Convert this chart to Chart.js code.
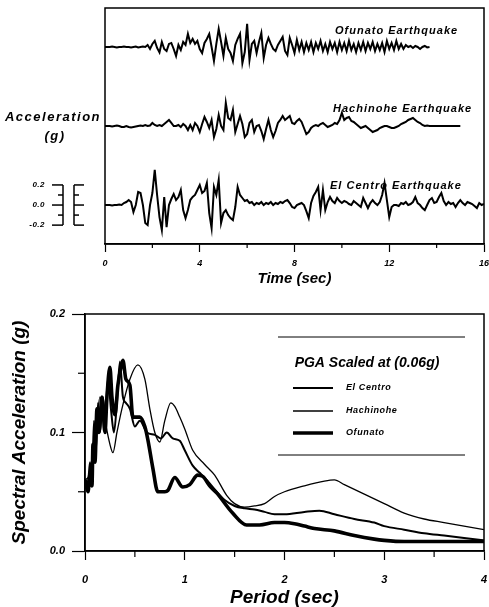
<!DOCTYPE html>
<html>
<head>
<meta charset="utf-8">
<script src="https://cdn.jsdelivr.net/npm/chart.js@4.4.0/dist/chart.umd.min.js"></script>
<style>
  html, body { margin: 0; padding: 0; background: #fff; }
  #wrap { position: relative; width: 489px; height: 607px; }
  #timeBox { position: absolute; left: 0; top: 0; width: 489px; height: 290px; }
  #specBox { position: absolute; left: 0; top: 290px; width: 489px; height: 317px; }
</style>
</head>
<body>
<div id="wrap">
  <div id="timeBox"><canvas id="chartTime"></canvas></div>
  <div id="specBox"><canvas id="chartSpec"></canvas></div>
</div>
<script>
// ---- time histories (g), one sample every 0.1 s ----
const timeStep = 0.1;
const ofunatoAcc = [
  0, 0, 0, 0.005, 0, -0.005, 0, 0, 0.005, 0, 0, -0.005, 0, 0.005, -0.005, 0, 0.005, 0,
  0.02, -0.02, 0.03, 0.06, -0.01, -0.055, 0.05, -0.02, -0.04, 0.03, 0.04, -0.02,
  -0.09, 0.02, -0.03, 0.05, 0.02, 0.13, 0.04, 0.08, 0.03, 0.06,
  -0.02, -0.06, 0.04, 0.08, 0.13, 0.0, -0.14, 0.03, 0.18, 0.05,
  -0.09, 0.09, -0.02, -0.06, -0.14, 0.02, 0.08, 0.13, -0.16, -0.05,
  0.23, -0.13, 0.03, 0.06, -0.06, 0.05, 0.14, -0.11, 0.02, 0.09,
  0.03, -0.02, -0.04, 0.02, 0.06, 0.1, -0.04, -0.08, 0.09, 0.02,
  -0.06, 0.07, -0.03, 0.05, -0.05, 0.04, -0.03, 0.05, -0.05, 0.04,
  -0.02, 0.06, -0.04, 0.03, -0.05, 0.05, -0.02, 0.04, -0.05, 0.05,
  -0.03, 0.04, -0.04, 0.06, -0.03, 0.03, -0.05, 0.04, -0.03, 0.05,
  -0.04, 0.04, -0.02, 0.05, -0.04, 0.03, -0.03, 0.04, -0.05, 0.06,
  -0.02, 0.04, -0.03, 0.06, -0.02, 0.03, -0.02, 0.02, 0.0, 0.01,
  -0.01, 0.01, 0, -0.02, 0, 0.01, -0.005, 0
];
const hachinoheAcc = [
  0, 0, 0, -0.005, 0, 0.005, 0, -0.01, -0.01, 0,
  -0.01, -0.015, -0.01, -0.005, 0, 0.005, 0, 0.01, 0, 0.005,
  0.03, 0.01, 0.0, 0.01, 0.0, 0.02, 0.04, 0.06, 0.03, 0.0,
  0.0, 0.01, -0.01, 0.02, 0.0, -0.04, 0.01, -0.04, 0.03, 0.0,
  -0.06, 0.02, 0.09, 0.04, -0.02, 0.06, -0.11, -0.03, 0.11, 0.0,
  -0.04, 0.23, 0.08, 0.06, 0.16, -0.06, 0.02, 0.1, 0.02, -0.11,
  -0.08, 0.03, 0.06, -0.06, 0.0, 0.01, -0.05, -0.13, -0.03, 0.06,
  -0.04, -0.11, -0.05, 0.03, 0.06, 0.1, 0.06, 0.08, 0.1, 0.03,
  0.02, 0.05, 0.07, 0.04, -0.02, -0.08, -0.06, -0.02, 0.0, 0.01,
  0.0, 0.02, 0.03, 0.01, -0.01, 0.0, 0.01, 0.03, 0.02, 0.06,
  0.13, 0.06, 0.08, 0.09, 0.05, 0.04, 0.02, 0.0, -0.02, -0.01,
  0.0, -0.02, -0.04, -0.06, -0.05, -0.04, -0.02, -0.01, 0.0, 0.0,
  -0.01, -0.02, -0.02, -0.01, 0.0, 0.02, 0.03, 0.04, 0.06, 0.07,
  0.08, 0.06, 0.04, 0.03, 0.01, 0.0, 0.005, 0, 0, 0,
  0, 0, 0, 0, 0, 0, 0, 0, 0, 0, 0
];
const elCentroAcc = [
  0, 0, 0, -0.005, 0, 0, 0.005, 0, 0.02, 0.03,
  0.05, 0.03, -0.07, 0.0, 0.13, 0.12, 0.0, -0.18, -0.2, 0.0,
  0.12, 0.35, 0.1, -0.12, -0.25, 0.08, -0.22, 0.0, 0.06, 0.11,
  0.05, 0.08, 0.15, -0.05, -0.13, -0.05, 0.05, 0.08, 0.1, 0.15,
  0.2, 0.12, 0.14, 0.22, -0.08, -0.23, 0.18, 0.1, 0.25, -0.18,
  -0.08, -0.05, -0.1, -0.13, -0.15, -0.02, 0.18, 0.1, 0.07, 0.04,
  0.05, 0.02, 0.03, 0.0, 0.02, 0.01, 0.03, 0.0, 0.02, 0.01,
  0.03, 0.0, 0.02, 0.01, 0.03, 0.02, 0.04, 0.05, 0.02, -0.02,
  -0.03, 0.0, 0.01, 0.02, 0.0, -0.06, -0.13, 0.02, 0.09, 0.13,
  0.18, -0.05, 0.15, -0.05, 0.03, 0.08, 0.04, 0.02, 0.07, 0.04,
  0.02, 0.04, 0.03, 0.01, 0.0, 0.04, 0.02, 0.0, -0.02, 0.07,
  0.02, -0.03, 0.02, 0.05, 0.02, 0.0, 0.03, 0.1, 0.22, 0.05,
  -0.12, -0.02, 0.0, 0.0, -0.01, 0.02, 0.01, 0.03, 0.0, 0.01,
  0.03, 0.08, 0.02, 0.0, -0.03, -0.05, 0.0, 0.05, 0.07, 0.02,
  0.03, 0.08, 0.12, 0.04, 0.0, 0.03, 0.01, 0.02, -0.02, 0.02,
  0.05, 0.02, 0.0, 0.03, 0.02, 0.01, -0.01, -0.03, 0.02, 0.0, 0.01
];
const traceNames = ["Ofunato Earthquake", "Hachinohe Earthquake", "El Centro Earthquake"];
const timeTicks = [0, 4, 8, 12, 16];

// ---- response spectra (period s, spectral acceleration g) ----
const elCentroT = [0, 0.03, 0.05, 0.07, 0.09, 0.11, 0.13, 0.15, 0.18, 0.2, 0.23, 0.26, 0.29, 0.32, 0.35, 0.38, 0.41, 0.45,
  0.5, 0.55, 0.62, 0.7, 0.76, 0.82, 0.88, 0.95, 1.0, 1.08, 1.15, 1.22, 1.3, 1.4, 1.5, 1.6, 1.7, 1.8, 1.9, 2.0,
  2.2, 2.35, 2.5, 2.7, 2.9, 3.0, 3.2, 3.4, 3.6, 3.8, 4.0];
const elCentroSa = [0.06, 0.058, 0.075, 0.06, 0.11, 0.085, 0.125, 0.1, 0.13, 0.11, 0.145, 0.12, 0.1, 0.125, 0.16, 0.13, 0.125, 0.12,
  0.105, 0.11, 0.1, 0.098, 0.095, 0.1, 0.095, 0.093, 0.085, 0.072, 0.066, 0.06, 0.052, 0.043, 0.038, 0.036, 0.035, 0.033, 0.031, 0.031,
  0.033, 0.034, 0.031, 0.027, 0.024, 0.021, 0.018, 0.015, 0.013, 0.011, 0.009];
const hachinoheT = [0, 0.05, 0.1, 0.15, 0.2, 0.25, 0.28, 0.32, 0.37, 0.45, 0.53, 0.6, 0.65, 0.7, 0.75, 0.8, 0.86, 0.9,
  0.95, 1.0, 1.08, 1.2, 1.3, 1.42, 1.5, 1.6, 1.7, 1.8, 1.9, 2.0, 2.2, 2.4, 2.5, 2.6, 2.8, 3.0, 3.2, 3.4, 3.6, 3.8, 4.0];
const hachinoheSa = [0.06, 0.065, 0.09, 0.13, 0.11, 0.09, 0.083, 0.1, 0.12, 0.145, 0.157, 0.145, 0.12, 0.1, 0.092, 0.11, 0.125, 0.122,
  0.113, 0.103, 0.085, 0.073, 0.064, 0.047, 0.04, 0.037, 0.038, 0.04, 0.046, 0.05, 0.055, 0.059, 0.06, 0.056, 0.048, 0.04, 0.032, 0.027, 0.024, 0.021, 0.018];
const ofunatoT = [0, 0.03, 0.05, 0.07, 0.08, 0.1, 0.12, 0.14, 0.17, 0.2, 0.22, 0.25, 0.27, 0.3, 0.33, 0.36, 0.38, 0.41, 0.45, 0.48,
  0.55, 0.6, 0.63, 0.68, 0.73, 0.8, 0.83, 0.9, 0.98, 1.05, 1.13, 1.18, 1.25, 1.32, 1.48, 1.62, 1.75, 1.9, 2.0, 2.1, 2.2, 2.3,
  2.5, 2.7, 2.9, 3.0, 3.2, 3.5, 4.0];
const ofunatoSa = [0.06, 0.05, 0.065, 0.055, 0.09, 0.075, 0.12, 0.1, 0.13, 0.1, 0.13, 0.155, 0.13, 0.115, 0.14, 0.155, 0.161, 0.145, 0.14, 0.113,
  0.113, 0.105, 0.094, 0.07, 0.05, 0.05, 0.051, 0.062, 0.054, 0.056, 0.064, 0.063, 0.055, 0.049, 0.032, 0.022, 0.022, 0.024, 0.024, 0.023, 0.021, 0.019,
  0.017, 0.013, 0.01, 0.009, 0.008, 0.008, 0.008];
const spectrumNames = ["El Centro", "Hachinohe", "Ofunato"];
const legendTitle = "PGA Scaled at (0.06g)";

// ---- helpers ----
const FAMILY = '"Liberation Sans", Arial, sans-serif';
const bi = (size, lh) => ({ family: FAMILY, size: size, style: "italic", weight: "bold", lineHeight: lh || 1.2 });
const biCss = (size) => `italic bold ${size}px ${FAMILY}`;
const isMajorTenth = (v) => Math.abs(v * 10 - Math.round(v * 10)) < 1e-6;

function toPoints(values, offset) {
  return values.map((v, i) => ({ x: +(i * timeStep).toFixed(2), y: v + offset }));
}
function pairPoints(xs, ys) {
  return xs.map((x, i) => ({ x: x, y: ys[i] }));
}
function line(ctx, x1, y1, x2, y2) {
  ctx.beginPath(); ctx.moveTo(x1, y1); ctx.lineTo(x2, y2); ctx.stroke();
}

// stacking of the three traces on one axis (g units)
const traceOffsets = [1.962, 1.175, 0.388];

const timeDecor = {
  id: "timeDecor",
  afterDraw(chart) {
    const { ctx, chartArea: a, scales: { x, y } } = chart;
    ctx.save();
    ctx.strokeStyle = "#000";
    ctx.fillStyle = "#000";
    ctx.lineWidth = 1.5;
    ctx.strokeRect(a.left, a.top, a.right - a.left, a.bottom - a.top);

    // minor ticks every 2 s
    ctx.lineWidth = 1.2;
    [2, 6, 10, 14].forEach((t) => { const px = x.getPixelForValue(t); line(ctx, px, a.bottom, px, a.bottom + 4); });

    // trace names
    ctx.textBaseline = "middle";
    ctx.textAlign = "left";
    ctx.font = biCss(11);
    ctx.letterSpacing = "1px";
    const labelPos = [[335, 31], [333, 109], [330, 186]];
    traceNames.forEach((n, i) => ctx.fillText(n, labelPos[i][0], labelPos[i][1]));

    // y label
    ctx.textAlign = "center";
    ctx.font = biCss(13);
    ctx.letterSpacing = "1.5px";
    ctx.fillText("Acceleration", 53, 117);
    ctx.fillText("(g)", 55, 136);

    // scale bars next to El Centro trace
    const base = traceOffsets[2];
    const yp = (v) => y.getPixelForValue(base + v);
    ctx.lineWidth = 1.5;
    line(ctx, 63, yp(0.2), 63, yp(-0.2));
    [0.2, 0, -0.2].forEach((v) => line(ctx, 52, yp(v), 63, yp(v)));
    [0.1, -0.1].forEach((v) => line(ctx, 58, yp(v), 63, yp(v)));
    line(ctx, 74, yp(0.2), 74, yp(-0.2));
    [0.2, 0, -0.2].forEach((v) => line(ctx, 74, yp(v), 84, yp(v)));
    [0.1, -0.1].forEach((v) => line(ctx, 74, yp(v), 79, yp(v)));
    ctx.textAlign = "right";
    ctx.font = biCss(8);
    ctx.letterSpacing = "0.5px";
    [0.2, 0, -0.2].forEach((v) => ctx.fillText(v.toFixed(1), 45, yp(v)));
    ctx.restore();
  },
};

const specDecor = {
  id: "specDecor",
  afterDraw(chart) {
    const { ctx, chartArea: a, scales: { x, y } } = chart;
    ctx.save();
    ctx.strokeStyle = "#000";
    ctx.fillStyle = "#000";
    ctx.lineWidth = 1.5;
    ctx.strokeRect(a.left, a.top, a.right - a.left, a.bottom - a.top);

    // minor ticks
    ctx.lineWidth = 1.2;
    [0.05, 0.15].forEach((v) => { const py = y.getPixelForValue(v); line(ctx, a.left - 7, py, a.left, py); });
    [0.5, 1.5, 2.5, 3.5].forEach((v) => { const px = x.getPixelForValue(v); line(ctx, px, a.bottom, px, a.bottom + 6); });

    // legend block
    const lx = 278, rx = 465;
    ctx.lineWidth = 1;
    line(ctx, lx, 47, rx, 47);
    line(ctx, lx, 165, rx, 165);
    ctx.textBaseline = "middle";
    ctx.textAlign = "center";
    ctx.font = biCss(14);
    ctx.fillText(legendTitle, 367, 73);
    const rows = [98, 121, 143];
    ctx.font = biCss(9);
    ctx.letterSpacing = "0.6px";
    ctx.textAlign = "left";
    chart.data.datasets.forEach((ds, i) => {
      ctx.lineWidth = ds.borderWidth;
      line(ctx, 293, rows[i], 333, rows[i]);
      ctx.fillText(ds.label, 346, rows[i]);
    });
    ctx.restore();
  },
};

Chart.defaults.color = "#000";
Chart.defaults.font.family = FAMILY;

new Chart(document.getElementById("chartTime"), {
  type: "line",
  data: {
    datasets: [ofunatoAcc, hachinoheAcc, elCentroAcc].map((vals, i) => ({
      label: traceNames[i],
      data: toPoints(vals, traceOffsets[i]),
      borderColor: "#000",
      borderWidth: 2,
      pointRadius: 0,
      tension: 0,
      fill: false,
    })),
  },
  options: {
    responsive: true,
    maintainAspectRatio: false,
    animation: false,
    devicePixelRatio: 1,
    layout: { padding: { left: 105, right: 5, top: 8, bottom: 0 } },
    plugins: { legend: { display: false }, tooltip: { enabled: false } },
    scales: {
      x: {
        type: "linear", min: 0, max: 16,
        afterFit: (s) => { s.height = 46; s.paddingLeft = 0; s.paddingRight = 0; },
        afterBuildTicks: (s) => { s.ticks = timeTicks.map((v) => ({ value: v })); },
        border: { display: true, color: "#000", width: 1.5 },
        grid: { drawOnChartArea: false, drawTicks: true, tickLength: 8, tickColor: "#000", tickWidth: 1.2 },
        ticks: { color: "#000", font: bi(9), padding: 6, maxRotation: 0, autoSkip: false },
        title: { display: true, text: "Time (sec)", color: "#000", font: bi(15), padding: { top: 0, bottom: 2 } },
      },
      y: { type: "linear", min: 0, max: 2.35, display: false },
    },
  },
  plugins: [timeDecor],
});

new Chart(document.getElementById("chartSpec"), {
  type: "line",
  data: {
    datasets: [
      { label: spectrumNames[0], data: pairPoints(elCentroT, elCentroSa), borderWidth: 2 },
      { label: spectrumNames[1], data: pairPoints(hachinoheT, hachinoheSa), borderWidth: 1.3 },
      { label: spectrumNames[2], data: pairPoints(ofunatoT, ofunatoSa), borderWidth: 3.6 },
    ].map((d) => Object.assign(d, { borderColor: "#000", pointRadius: 0, cubicInterpolationMode: "monotone", fill: false })),
  },
  options: {
    responsive: true,
    maintainAspectRatio: false,
    animation: false,
    devicePixelRatio: 1,
    layout: { padding: { left: 0, right: 5, top: 24, bottom: 0 } },
    plugins: { legend: { display: false }, tooltip: { enabled: false } },
    scales: {
      x: {
        type: "linear", min: 0, max: 4,
        afterFit: (s) => { s.height = 56; s.paddingLeft = 0; s.paddingRight = 0; },
        border: { display: true, color: "#000", width: 1.5 },
        grid: {
          drawOnChartArea: false, tickLength: 9, tickWidth: 1.2,
          tickColor: (c) => (c.tick && Number.isInteger(c.tick.value) ? "#000" : "rgba(0,0,0,0)"),
        },
        ticks: {
          stepSize: 0.5, color: "#000", font: bi(11), padding: 13, maxRotation: 0, autoSkip: false,
          callback: (v) => (Number.isInteger(v) ? String(v) : ""),
        },
        title: { display: true, text: "Period (sec)", color: "#000", font: bi(19, 1), padding: { top: 0, bottom: 0 } },
      },
      y: {
        type: "linear", min: 0, max: 0.2,
        afterFit: (s) => { s.width = 85; s.paddingTop = 0; s.paddingBottom = 0; },
        border: { display: true, color: "#000", width: 1.5 },
        grid: {
          drawOnChartArea: false, tickLength: 13, tickWidth: 1.2,
          tickColor: (c) => (c.tick && isMajorTenth(c.tick.value) ? "#000" : "rgba(0,0,0,0)"),
        },
        ticks: {
          stepSize: 0.05, color: "#000", font: bi(11), padding: 7, autoSkip: false,
          callback: (v) => (isMajorTenth(v) ? v.toFixed(1) : ""),
        },
        title: { display: true, text: "Spectral Acceleration (g)", color: "#000", font: bi(19, 1), padding: { top: 10, bottom: 0 } },
      },
    },
  },
  plugins: [specDecor],
});
</script>
</body>
</html>
